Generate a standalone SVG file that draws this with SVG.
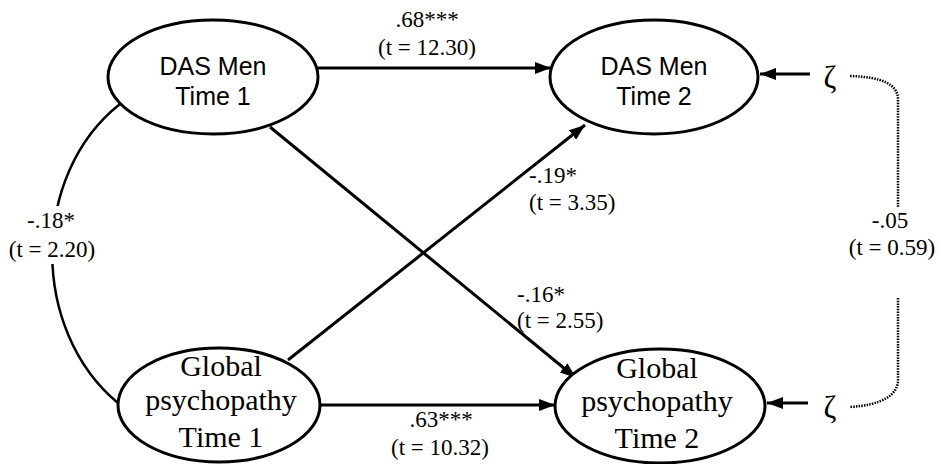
<svg xmlns="http://www.w3.org/2000/svg" width="940" height="464" viewBox="0 0 940 464">
<defs>
<marker id="ah" viewBox="0 0 16 12" refX="16" refY="6" markerWidth="16" markerHeight="12" markerUnits="userSpaceOnUse" orient="auto">
<path d="M0,0 L16,6 L0,12 Z" fill="#000"/>
</marker>
<style>
.node ellipse{fill:#fff;stroke:#000;stroke-width:3}
.sans{font-family:"Liberation Sans",Arial,sans-serif;font-size:25px;fill:#000;text-anchor:middle}
.serif{font-family:"Liberation Serif","Times New Roman",serif;font-size:30px;fill:#000;text-anchor:middle}
.lab{font-family:"Liberation Serif","Times New Roman",serif;font-size:23px;fill:#000}
.mid{text-anchor:middle}
.zeta{font-family:"Liberation Serif","Times New Roman",serif;font-size:31px;fill:#000;text-anchor:middle}
.arr{fill:none;stroke:#000;stroke-width:3;marker-end:url(#ah)}
.cov{fill:none;stroke:#000;stroke-width:2.5}
.dot{fill:none;stroke:#000;stroke-width:2.5;stroke-dasharray:1.5 1.2}
</style>
</defs>
<rect width="940" height="464" fill="#fff"/>
<g id="connectors">
<path class="arr" d="M318,68 L551,68"/>
<path class="arr" d="M320,405 L555,405"/>
<path class="arr" d="M270,127 L576,378"/>
<path class="arr" d="M288,360 L585,125"/>
<path class="arr" d="M810,74 L760,74"/>
<path class="arr" d="M808,403 L767,403"/>
<path class="cov" d="M120,104 C30,175 30,330 118,403"/>
<rect x="0" y="206" width="102" height="58" fill="#fff"/>
<path class="dot" d="M850,76 C882,77 898,84 898,100 L898,207"/>
<path class="dot" d="M898,298 L898,380 C898,395 882,405 850,407"/>
</g>
<g id="das1" class="node">
<ellipse cx="213" cy="77" rx="105" ry="57"/>
<text class="sans" x="213" y="75">DAS Men</text>
<text class="sans" x="213" y="105">Time 1</text>
</g>
<g id="das2" class="node">
<ellipse cx="654" cy="77" rx="104" ry="57"/>
<text class="sans" x="654" y="75">DAS Men</text>
<text class="sans" x="654" y="105">Time 2</text>
</g>
<g id="gp1" class="node">
<ellipse cx="219" cy="405" rx="101" ry="57"/>
<text class="serif" x="221" y="376">Global</text>
<text class="serif" x="221" y="410">psychopathy</text>
<text class="serif" x="221" y="447">Time 1</text>
</g>
<g id="gp2" class="node">
<ellipse cx="660" cy="406" rx="105" ry="57"/>
<text class="serif" x="657" y="378">Global</text>
<text class="serif" x="657" y="411">psychopathy</text>
<text class="serif" x="657" y="448">Time 2</text>
</g>
<g id="zeta1"><text class="zeta" x="830" y="88">ζ</text></g>
<g id="zeta2"><text class="zeta" x="830" y="418">ζ</text></g>
<g id="labels">
<text class="lab mid" x="427" y="27">.68***</text>
<text class="lab mid" x="427" y="55">(t = 12.30)</text>
<text class="lab mid" x="441" y="427">.63***</text>
<text class="lab mid" x="440" y="455">(t = 10.32)</text>
<text class="lab" x="529" y="183">-.19*</text>
<text class="lab" x="529" y="210">(t = 3.35)</text>
<text class="lab" x="517" y="302">-.16*</text>
<text class="lab" x="517" y="328">(t = 2.55)</text>
<text class="lab mid" x="51" y="228">-.18*</text>
<text class="lab mid" x="52" y="257">(t = 2.20)</text>
<text class="lab mid" x="890" y="228">-.05</text>
<text class="lab mid" x="892" y="255">(t = 0.59)</text>
</g>
</svg>
